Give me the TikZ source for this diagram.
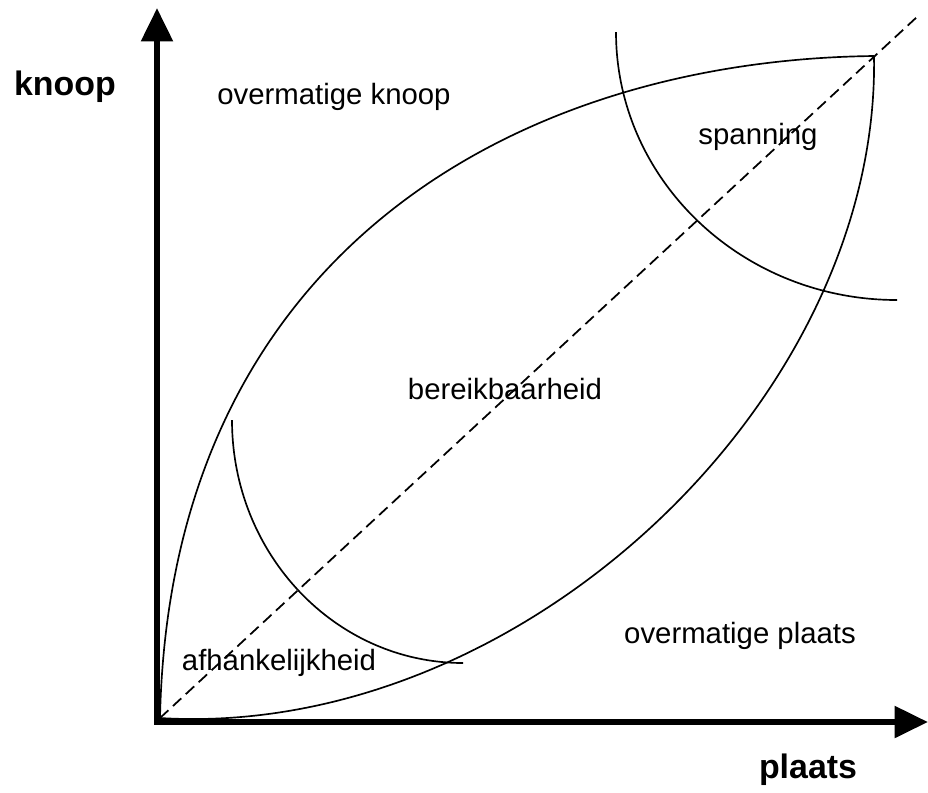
\documentclass[tikz,border=0pt]{standalone}
\usepackage{fontspec}
\setmainfont{Liberation Sans}
\usepackage{tikz}
\usetikzlibrary{arrows.meta,positioning,calc}
\tikzset{
  assen/.style={line width=3.5pt,{Triangle[length=19pt,width=17.5pt]}-{Triangle[length=19pt,width=17.5pt]}},
  lensrand/.style={line width=0.95pt},
  boog/.style={line width=0.95pt},
  diag/.style={line width=1pt,dash pattern=on 6.5pt off 3.5pt},
  gebied/.style={font=\fontsize{16.7}{20}\selectfont,inner sep=0pt},
  aslab/.style={font=\bfseries\fontsize{19.3}{23}\selectfont,inner sep=0pt}
}

\begin{document}
\begin{tikzpicture}[x=0.02cm,y=-0.02cm]
  \useasboundingbox (0,0) rectangle (928,792);
  % assen
  \coordinate (O) at (157,722);
  \coordinate (ytop) at (157,8);
  \coordinate (xend) at (928,722);
  \draw[assen] (ytop) -- (O) -- (xend);
  \node[aslab] (knoop) at (65,87) {knoop};
  \node[aslab] (plaats) at (808,770) {plaats};
  % lens en diagonaal
  \coordinate (lo) at (160,718);
  \coordinate (tip) at (874,56);
  \coordinate (dend) at (918,16);
  \draw[lensrand] (lo) .. controls (170,250) and (520,60) .. (tip);
  \draw[lensrand] (lo) .. controls (520,740) and (880,400) .. (tip);
  \draw[diag] (lo) -- (dend);
  % bogen
  \coordinate (afhtop) at (232,420);
  \coordinate (spantop) at (616,32);
  \draw[boog] (afhtop) arc[start angle=180,end angle=90,x radius=231,y radius=243];
  \draw[boog] (spantop) arc[start angle=180,end angle=90,x radius=281,y radius=268];
  % gebieden
  \node[gebied] (ovk) at (334,97) {overmatige knoop};
  \node[gebied] (span) at (758,137) {spanning};
  \node[gebied] (bereik) at (505,389) {bereikbaarheid};
  \node[gebied] (afh) at (279,663) {afhankelijkheid};
  \node[gebied] (ovp) at (740,636) {overmatige plaats};
\end{tikzpicture}
\end{document}
